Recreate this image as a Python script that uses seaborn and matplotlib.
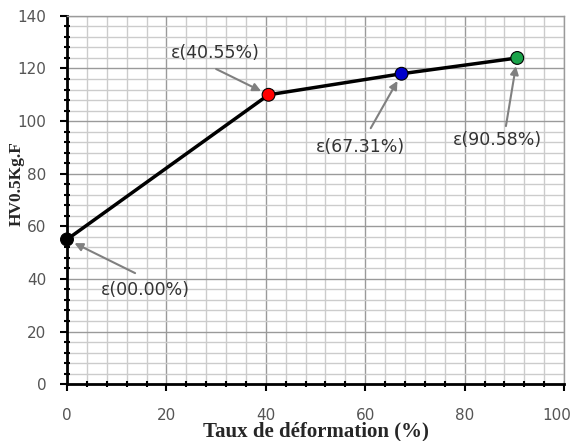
import matplotlib
matplotlib.use("Agg")
import matplotlib.pyplot as plt
import matplotlib.transforms as mtransforms
from matplotlib.ticker import MultipleLocator
import seaborn as sns
import pandas as pd

# Données
deformation = [0.0, 40.55, 67.31, 90.58]
durete = [55, 110, 118, 124]
couleurs = ["#000000", "#ff0000", "#0000cc", "#1aa34a"]
etiquettes = ["ε(00.00%)", "ε(40.55%)", "ε(67.31%)", "ε(90.58%)"]
# position des textes et départ des flèches (en unités des données)
texte_x = [15.7, 29.8, 59.1, 86.5]
texte_y = [35.7, 125.9, 90.1, 92.8]
fleche_x = [13.7, 30.0, 61.1, 88.3]
fleche_y = [42.2, 119.8, 97.3, 98.1]

df = pd.DataFrame({"x": deformation, "y": durete, "c": couleurs})

sns.set_style("white")
plt.rcParams["font.family"] = ["DejaVu Sans"]

fig = plt.figure(figsize=(5.75, 4.41), dpi=100)
ax = fig.add_axes([0.1165, 0.129, 0.8645, 0.835])

# Courbe + points
sns.lineplot(data=df, x="x", y="y", color="black", linewidth=2.5, ax=ax, zorder=3)
sns.scatterplot(data=df, x="x", y="y", hue="c", palette=dict(zip(couleurs, couleurs)),
                s=85, edgecolor="black", linewidth=0.8, legend=False, ax=ax,
                zorder=4, clip_on=False)

# Flèches et étiquettes
for i in range(len(deformation)):
    ax.text(texte_x[i], texte_y[i], etiquettes[i], ha="center", va="center",
            fontsize=12.5, color="#333333", zorder=5)
    ax.annotate("", xy=(deformation[i], durete[i]), xytext=(fleche_x[i], fleche_y[i]),
                arrowprops=dict(arrowstyle="-|>", color="#808080", lw=1.5,
                                shrinkA=0, shrinkB=6, mutation_scale=12),
                zorder=5)

ax.set_xlim(0, 100)
ax.set_ylim(0, 140)
ax.xaxis.set_major_locator(MultipleLocator(20))
ax.yaxis.set_major_locator(MultipleLocator(20))
ax.xaxis.set_minor_locator(MultipleLocator(4))
ax.yaxis.set_minor_locator(MultipleLocator(4))

# Grille
ax.grid(which="major", color="#9a9a9a", linewidth=1.0, zorder=0)
ax.grid(which="minor", color="#cccccc", linewidth=1.0, zorder=0)
ax.set_axisbelow(True)

ax.tick_params(which="major", direction="out", length=5, width=1.5, color="black",
               labelsize=11, labelcolor="#555555", left=True, bottom=True)
ax.tick_params(axis="y", which="major", pad=10)
ax.tick_params(axis="x", which="major", pad=12)
ax.tick_params(which="minor", direction="inout", length=5, width=1.5, color="black",
               left=True, bottom=True)

for s in ["left", "bottom"]:
    ax.spines[s].set_color("black")
    ax.spines[s].set_linewidth(2.0)
for s in ["top", "right"]:
    ax.spines[s].set_color("#9a9a9a")
    ax.spines[s].set_linewidth(1.0)

ax.set_xlabel("Taux de déformation (%)", fontsize=15, fontweight="bold",
              family="Liberation Serif", labelpad=-1)
ax.set_ylabel("HV0.5Kg.F", fontsize=12.5, fontweight="bold",
              family="Liberation Serif")
ax.yaxis.set_label_coords(-0.086, 0.545)

# le libellé "100" est un peu décalé vers la gauche pour rester dans l'image
fig.canvas.draw()
decalage = mtransforms.ScaledTranslation(-7 / 100, 0, fig.dpi_scale_trans)
for tick in ax.xaxis.get_major_ticks():
    if tick.label1.get_text() == "100":
        tick.label1.set_transform(tick.label1.get_transform() + decalage)

fig.savefig("out.png", dpi=100)
